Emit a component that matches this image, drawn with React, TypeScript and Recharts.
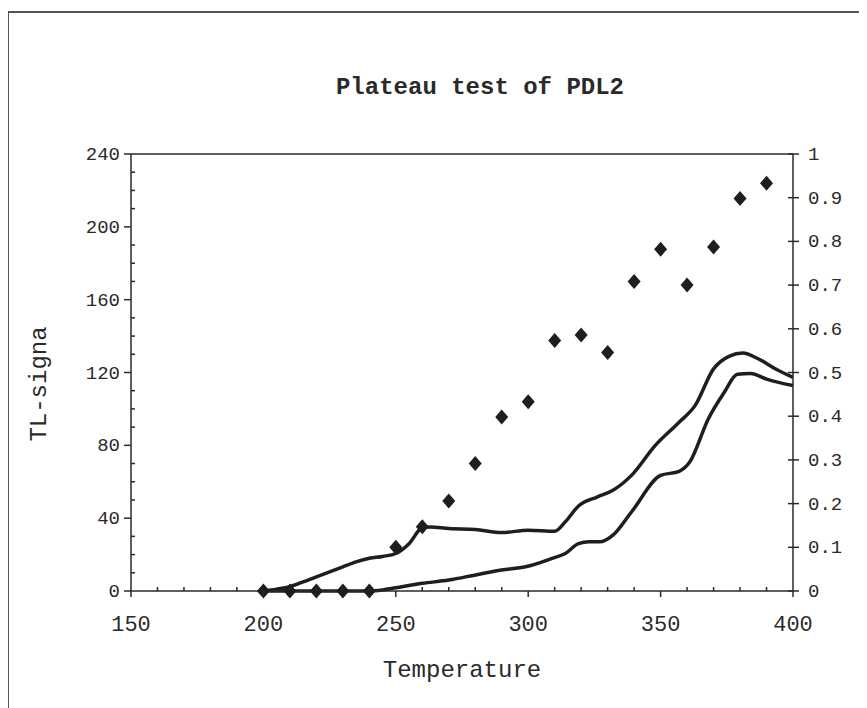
import React from 'react';
import { ComposedChart, Line, Scatter, XAxis, YAxis, ReferenceLine } from 'recharts';

const upperTemps = [200,205,210,215,220,225,230,235,240,245,250,255,260,263,270,280,290,300,310,314,319,326,332,339,348,357,363,370,376,381,387,394,400];
const upperSignal = [0,1,2.4,5,7.8,10.5,13.3,16,18,19,20.6,26,34.7,35.2,34.3,33.8,32.1,33.4,32.8,38,46.7,51.6,55.3,63.5,80,92.7,101.8,122,129,130.7,127.4,121.5,117.3];

const lowerTemps = [200,210,220,230,240,245,250,260,270,281,290,299,309,314,319,323,327,332,339,350,357,361,368,374,379,384,390,400];
const lowerSignal = [0,0,0,0,0,0.6,1.8,4.2,6,9.1,11.5,13.3,17.9,20.6,26,27,27,30.7,43.4,63.5,65.7,70.8,94.5,109,119,119.5,116.4,112.8];

const ratioTemps = [200,210,220,230,240,250,260,270,280,290,300,310,320,330,340,350,360,370,380,390];
const ratioValues = [0,0,0,0,0,0.1,0.147,0.206,0.292,0.398,0.433,0.573,0.586,0.546,0.708,0.782,0.7,0.787,0.898,0.933];

const xTicks = [150,160,170,180,190,200,210,220,230,240,250,260,270,280,290,300,310,320,330,340,350,360,370,380,390,400];
const leftTicks = [0,10,20,30,40,50,60,70,80,90,100,110,120,130,140,150,160,170,180,190,200,210,220,230,240];
const rightTicks = [0,0.1,0.2,0.3,0.4,0.5,0.6,0.7,0.8,0.9,1];
const rightTickLabels = ['0','0.1','0.2','0.3','0.4','0.5','0.6','0.7','0.8','0.9','1'];

const upperData = upperTemps.map((t, i) => ({ t, v: upperSignal[i] }));
const lowerData = lowerTemps.map((t, i) => ({ t, v: lowerSignal[i] }));
const ratioData = ratioTemps.map((t, i) => ({ t, r: ratioValues[i] }));

const FONT = '"Liberation Mono", "Courier New", monospace';
const INK = '#2a2a2a';

const LeftTick = (props: any) => {
  const { x, y, payload } = props;
  const v = payload.value;
  if (v % 40 === 0) {
    return (
      <g>
        <line x1={x - 7} x2={x} y1={y} y2={y} stroke={INK} strokeWidth={1.5} />
        <text x={x - 11} y={y} dy={6} textAnchor="end" fontFamily={FONT} fontSize={19} fill={INK}>{v}</text>
      </g>
    );
  }
  return <line x1={x} x2={x + 4} y1={y} y2={y} stroke={INK} strokeWidth={1.5} />;
};

const RightTick = (props: any) => {
  const { x, y, payload } = props;
  const idx = rightTicks.indexOf(payload.value);
  const label = idx >= 0 ? rightTickLabels[idx] : String(payload.value);
  return (
    <g>
      <line x1={x - 5} x2={x + 6} y1={y} y2={y} stroke={INK} strokeWidth={1.5} />
      <text x={x + 15} y={y} dy={6} textAnchor="start" fontFamily={FONT} fontSize={19} fill={INK}>{label}</text>
    </g>
  );
};

const BottomTick = (props: any) => {
  const { x, y, payload } = props;
  const v = payload.value;
  if (v % 50 === 0) {
    return (
      <g>
        <line x1={x} x2={x} y1={y} y2={y + 6} stroke={INK} strokeWidth={1.5} />
        <text x={x} y={y + 32} dy={8} textAnchor="middle" fontFamily={FONT} fontSize={22} fill={INK}>{v}</text>
      </g>
    );
  }
  return <line x1={x} x2={x} y1={y - 4} y2={y} stroke={INK} strokeWidth={1.5} />;
};

const Diamond = (props: any) => {
  const { cx, cy } = props;
  if (cx == null || cy == null) return null;
  return (
    <polygon
      points={`${cx},${cy - 7.5} ${cx + 6.5},${cy} ${cx},${cy + 7.5} ${cx - 6.5},${cy}`}
      fill="#1e1e1e"
    />
  );
};

export default function App() {
  return (
    <div style={{ position: 'relative', width: 859, height: 700 }}>
      <div style={{ position: 'absolute', left: -1, top: 3, width: 2, height: 700, background: '#555' }} />
      <div style={{ position: 'absolute', left: -1, top: 3, width: 860, height: 2, background: '#555' }} />
      <div style={{ position: 'absolute', left: 0, top: 66, width: 944, textAlign: 'center', fontFamily: FONT, fontWeight: 'bold', fontSize: 24, color: INK, whiteSpace: 'nowrap' }}>
        Plateau test of PDL2
      </div>
      <div style={{ position: 'absolute', left: 31, top: 376, fontFamily: FONT, fontSize: 24, color: INK, whiteSpace: 'nowrap', transform: 'translate(-50%, -50%) rotate(-90deg)' }}>
        TL-signa
      </div>
      <div style={{ position: 'absolute', left: 454, top: 662, fontFamily: FONT, fontSize: 24, color: INK, whiteSpace: 'nowrap', transform: 'translate(-50%, -50%)' }}>
        Temperature
      </div>
      <div style={{ position: 'absolute', left: 0, top: 0 }}>
        <ComposedChart width={859} height={700} margin={{ top: 146, right: 0, bottom: 0, left: 0 }}>
          <XAxis
            dataKey="t"
            type="number"
            domain={[150, 400]}
            ticks={xTicks}
            interval={0}
            allowDataOverflow
            height={117}
            tickSize={0}
            tickMargin={0}
            tickLine={false}
            tick={<BottomTick />}
            axisLine={{ stroke: INK, strokeWidth: 1.5 }}
          />
          <YAxis
            yAxisId="left"
            orientation="left"
            type="number"
            domain={[0, 240]}
            ticks={leftTicks}
            interval={0}
            width={123}
            tickSize={0}
            tickMargin={0}
            tickLine={false}
            tick={<LeftTick />}
            axisLine={{ stroke: INK, strokeWidth: 1.5 }}
          />
          <YAxis
            yAxisId="right"
            orientation="right"
            type="number"
            domain={[0, 1]}
            ticks={rightTicks}
            interval={0}
            width={74}
            tickSize={0}
            tickMargin={0}
            tickLine={false}
            tick={<RightTick />}
            axisLine={{ stroke: INK, strokeWidth: 1.5 }}
          />
          <ReferenceLine yAxisId="left" y={240} stroke={INK} strokeWidth={1.5} ifOverflow="visible" />
          <Line
            yAxisId="left"
            data={upperData}
            dataKey="v"
            type="monotone"
            stroke="#1e1e1e"
            strokeWidth={3.5}
            dot={false}
            activeDot={false}
            isAnimationActive={false}
          />
          <Line
            yAxisId="left"
            data={lowerData}
            dataKey="v"
            type="monotone"
            stroke="#1e1e1e"
            strokeWidth={3.5}
            dot={false}
            activeDot={false}
            isAnimationActive={false}
          />
          <Scatter
            yAxisId="right"
            data={ratioData}
            dataKey="r"
            shape={<Diamond />}
            isAnimationActive={false}
          />
        </ComposedChart>
      </div>
    </div>
  );
}
